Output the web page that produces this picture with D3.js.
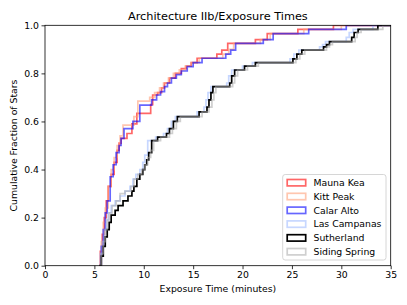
<!DOCTYPE html>
<html>
<head>
<meta charset="utf-8">
<script src="https://cdn.jsdelivr.net/npm/d3@7"></script>
<style>
body { margin: 0; background: #fff; }
text { font-family: "DejaVu Sans", sans-serif; }
</style>
</head>
<body>
<div id="chart"></div>
<script>
// cumulative fraction of stars vs exposure time (minutes), [time, fraction] at each step
var maunaKea = [[5.5,0],[5.6,0.06],[5.8,0.13],[6.0,0.2],[6.2,0.27],[6.4,0.33],[6.7,0.38],[7.0,0.43],[7.3,0.48],[7.5,0.51],[7.7,0.53],[8.3,0.55],[8.8,0.59],[9.3,0.634],[10.7,0.67],[10.9,0.71],[11.4,0.72],[11.8,0.74],[12.1,0.76],[12.6,0.78],[13.2,0.80],[13.8,0.82],[14.3,0.83],[14.8,0.845],[15.4,0.863],[17.4,0.88],[17.9,0.897],[18.5,0.925],[21.3,0.94],[22.5,0.965],[25.6,0.983],[29.2,1.0]];
var kittPeak = [[5.5,0],[5.7,0.1],[5.9,0.18],[6.1,0.24],[6.4,0.33],[6.7,0.4],[7.0,0.45],[7.3,0.5],[7.6,0.54],[7.9,0.585],[9.0,0.62],[9.4,0.685],[10.6,0.7],[11.1,0.72],[11.6,0.74],[12.0,0.76],[12.5,0.78],[13.0,0.8],[13.6,0.815],[14.2,0.83],[14.8,0.845],[15.6,0.863],[18.0,0.88],[18.6,0.9],[19.1,0.925],[21.8,0.94],[22.8,0.965],[26.2,0.983],[30.0,1.0]];
var calarAlto = [[5.6,0],[5.7,0.08],[5.9,0.15],[6.1,0.22],[6.3,0.27],[6.6,0.37],[6.9,0.42],[7.2,0.47],[7.5,0.5],[7.7,0.53],[8.0,0.57],[8.9,0.6],[9.6,0.668],[10.8,0.69],[11.3,0.71],[11.7,0.724],[12.1,0.745],[12.4,0.76],[12.8,0.78],[13.3,0.795],[13.8,0.81],[14.4,0.828],[15.0,0.845],[15.9,0.863],[18.3,0.88],[18.8,0.897],[19.3,0.925],[22.1,0.94],[23.1,0.965],[26.7,0.983],[30.5,1.0]];
var lasCampanas = [[5.5,0],[5.6,0.05],[5.8,0.1],[6.0,0.15],[6.2,0.19],[6.4,0.22],[6.7,0.25],[7.1,0.27],[7.6,0.29],[8.1,0.31],[8.6,0.33],[8.9,0.36],[9.2,0.38],[9.6,0.4],[9.9,0.43],[10.1,0.46],[10.4,0.52],[11.2,0.535],[12.0,0.55],[12.4,0.57],[12.8,0.6],[13.2,0.62],[15.4,0.64],[16.1,0.66],[16.3,0.69],[16.5,0.72],[16.8,0.745],[18.4,0.76],[18.6,0.79],[18.9,0.814],[20.0,0.83],[21.0,0.845],[24.8,0.86],[25.2,0.88],[25.7,0.897],[27.8,0.91],[28.1,0.92],[28.4,0.932],[30.5,0.95],[30.8,0.97],[31.2,0.983],[33.2,1.0]];
var sutherland = [[5.5,0],[5.7,0.04],[5.9,0.08],[6.1,0.12],[6.3,0.15],[6.5,0.18],[6.7,0.21],[7.1,0.23],[7.4,0.25],[7.9,0.27],[8.4,0.29],[8.8,0.31],[9.0,0.33],[9.3,0.36],[9.6,0.38],[9.9,0.4],[10.1,0.42],[10.3,0.44],[10.5,0.47],[10.8,0.52],[11.4,0.535],[12.3,0.55],[12.6,0.57],[13.0,0.6],[13.4,0.62],[15.6,0.64],[16.4,0.66],[16.6,0.69],[16.8,0.72],[17.0,0.745],[18.7,0.76],[18.9,0.79],[19.2,0.814],[20.2,0.83],[21.3,0.845],[25.1,0.86],[25.5,0.88],[26.0,0.897],[28.2,0.91],[28.5,0.92],[28.8,0.932],[31.05,0.95],[31.3,0.97],[31.7,0.983],[33.7,1.0]];
var sidingSpring = [[5.6,0],[5.7,0.05],[5.9,0.1],[6.1,0.15],[6.3,0.19],[6.5,0.22],[6.8,0.25],[7.2,0.27],[7.6,0.3],[8.1,0.31],[8.7,0.33],[9.0,0.36],[9.4,0.38],[9.8,0.4],[10.1,0.42],[10.4,0.45],[10.7,0.48],[11.0,0.52],[11.7,0.535],[12.6,0.55],[12.9,0.57],[13.3,0.6],[13.7,0.62],[15.9,0.64],[16.6,0.66],[16.9,0.69],[17.1,0.72],[17.3,0.745],[19.0,0.76],[19.2,0.79],[19.5,0.814],[20.5,0.83],[21.6,0.845],[25.4,0.86],[25.8,0.88],[26.3,0.897],[28.5,0.91],[28.8,0.92],[29.1,0.932],[31.4,0.95],[31.6,0.97],[32.0,0.983],[34.2,1.0]];

var siteNames = ["Mauna Kea", "Kitt Peak", "Calar Alto", "Las Campanas", "Sutherland", "Siding Spring"];
var siteData = [maunaKea, kittPeak, calarAlto, lasCampanas, sutherland, sidingSpring];
var xTicks = [0, 5, 10, 15, 20, 25, 30, 35];
var yTicks = [0, 0.2, 0.4, 0.6, 0.8, 1.0];

// styles
var colors = ["#ff0000", "#ffa07a", "#0000ff", "#8fb0ff", "#000000", "#a8a8a8"];
var opac = [0.6, 0.6, 0.6, 0.5, 1, 0.55];

var width = 407, height = 305;
var margin = {top: 25.3, right: 16.3, bottom: 39.3, left: 45};
var iw = width - margin.left - margin.right,
    ih = height - margin.top - margin.bottom;

var svg = d3.select("#chart").append("svg")
    .attr("width", width)
    .attr("height", height);

var x = d3.scaleLinear().domain([0, 35]).range([0, iw]);
var y = d3.scaleLinear().domain([0, 1]).range([ih, 0]);

var g = svg.append("g")
    .attr("transform", "translate(" + margin.left + "," + margin.top + ")");

g.append("clipPath").attr("id", "clip")
  .append("rect").attr("width", iw).attr("height", ih);

var line = d3.line()
    .x(function(d){ return x(d[0]); })
    .y(function(d){ return y(d[1]); })
    .curve(d3.curveStepAfter);

var lines = g.append("g").attr("clip-path", "url(#clip)");
siteData.forEach(function(s, i){
    var pts = s.concat([[36, 1.0]]);
    lines.append("path")
        .attr("d", line(pts))
        .attr("fill", "none")
        .attr("stroke", colors[i])
        .attr("stroke-opacity", opac[i])
        .attr("stroke-width", 1.7);
});

// axes
var xAxis = g.append("g")
    .attr("transform", "translate(0," + ih + ")")
    .call(d3.axisBottom(x).tickValues(xTicks).tickSize(3.5).tickPadding(2.5));
var yAxis = g.append("g")
    .call(d3.axisLeft(y).tickValues(yTicks).tickFormat(d3.format(".1f")).tickSize(3.5).tickPadding(2.5));
[xAxis, yAxis].forEach(function(a){
    a.selectAll("text").attr("font-size", "9.3px").attr("fill", "#000")
        .attr("font-family", "DejaVu Sans");
    a.selectAll("line").attr("stroke", "#000").attr("stroke-width", 0.8);
    a.select(".domain").remove();
});

g.append("rect")
    .attr("width", iw).attr("height", ih)
    .attr("fill", "none").attr("stroke", "#000").attr("stroke-width", 0.8);

svg.append("text")
    .attr("x", margin.left + iw / 2).attr("y", 19.8)
    .attr("text-anchor", "middle").attr("font-size", "11.3px")
    .text("Architecture IIb/Exposure Times");

svg.append("text")
    .attr("x", margin.left + iw / 2).attr("y", 292)
    .attr("text-anchor", "middle").attr("font-size", "9.3px")
    .text("Exposure Time (minutes)");

svg.append("text")
    .attr("transform", "translate(17.3," + (margin.top + ih / 2) + ") rotate(-90)")
    .attr("text-anchor", "middle").attr("font-size", "9.3px")
    .text("Cumulative Fraction of Stars");

// legend
var legend = svg.append("g").attr("transform", "translate(282.7,174.5)");
legend.append("rect")
    .attr("width", 103.3).attr("height", 85.5)
    .attr("rx", 2.5)
    .attr("fill", "#fff").attr("fill-opacity", 0.8)
    .attr("stroke", "#cccccc").attr("stroke-width", 0.8);
siteNames.forEach(function(name, i){
    var row = legend.append("g").attr("transform", "translate(0," + (8.2 + i * 13.8) + ")");
    row.append("rect")
        .attr("x", 4.5).attr("y", -3.2)
        .attr("width", 18.5).attr("height", 6.4)
        .attr("fill", "none")
        .attr("stroke", colors[i]).attr("stroke-opacity", opac[i])
        .attr("stroke-width", 1.7);
    row.append("text")
        .attr("x", 30.8).attr("y", 3.3)
        .attr("font-size", "9.3px")
        .text(name);
});
</script>
</body>
</html>
